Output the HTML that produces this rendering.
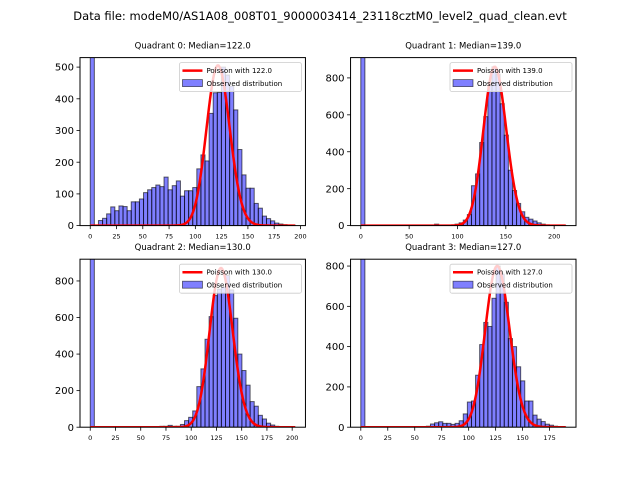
<!DOCTYPE html>
<html><head><meta charset="utf-8"><style>
body{margin:0;background:#fff;}
svg{display:block;font-family:"DejaVu Sans","Liberation Sans",sans-serif;}
</style></head><body>
<svg id="fig" width="640" height="480" viewBox="0 0 640 480">
<rect width="640" height="480" fill="#fff"/>
<text x="320" y="20" text-anchor="middle" font-size="11.5">Data file: modeM0/AS1A08_008T01_9000003414_23118cztM0_level2_quad_clean.evt</text>
</svg>
<script>
const titles = ["Quadrant 0: Median=122.0","Quadrant 1: Median=139.0","Quadrant 2: Median=130.0","Quadrant 3: Median=127.0"];
const medians = [122, 139, 130, 127];
const dataMax = [195, 212, 203, 190];
const poissonPeak = [505, 860, 870, 800];
const yMax = [530, 910, 919, 834];
const q0Counts = [5000,0,16,23,37,59,47,62,60,47,75,75,84,104,113,120,128,123,153,113,126,141,93,110,110,120,179,223,204,354,419,420,500,475,440,365,240,160,118,118,70,55,30,22,15,8,5,3,2,1];
const q1Counts = [5000,0,0,0,0,0,0,0,0,0,0,0,0,0,0,0,0,0,8,0,0,0,3,8,15,30,60,216,280,450,590,760,860,820,660,490,300,190,120,75,45,35,25,15,8,4,3,2,1,1];
const q2Counts = [5000,0,0,0,0,0,0,0,0,0,0,0,0,0,0,0,0,5,5,10,5,5,15,36,54,89,222,319,481,605,720,755,766,830,751,596,400,310,230,140,115,65,45,22,12,5,3,2,1,1];
const q3Counts = [5000,0,0,0,0,0,0,0,0,0,0,0,0,2,2,3,5,16,22,27,19,19,14,19,32,66,125,130,258,410,520,500,640,800,760,620,440,400,300,230,130,130,60,40,28,15,10,5,2,1];
const allCounts = [q0Counts, q1Counts, q2Counts, q3Counts];
const xTicks = [[0,25,50,75,100,125,150,175,200],[0,50,100,150,200],[0,25,50,75,100,125,150,175,200],[0,25,50,75,100,125,150,175]];
const yTicks = [[0,100,200,300,400,500],[0,200,400,600,800],[0,200,400,600,800],[0,200,400,600,800]];

const NS="http://www.w3.org/2000/svg";
const svg=document.getElementById('fig');
function mk(tag,attrs,parent){const e=document.createElementNS(NS,tag);for(const k in attrs)e.setAttribute(k,attrs[k]);(parent||svg).appendChild(e);return e;}
const W=225.45,H=168;
const lefts=[80,350.55,80,350.55], tops=[57.6,57.6,259.2,259.2];
function lgamma(n){let s=0;for(let i=2;i<=n;i++)s+=Math.log(i);return s;}
for(let q=0;q<4;q++){
  const L=lefts[q],T=tops[q],B=T+H,R=L+W;
  const dmax=dataMax[q],margin=dmax*0.05;
  const x0=-margin,x1=dmax+margin;
  const xs=v=>L+(v-x0)/(x1-x0)*W;
  const ys=v=>B-v/yMax[q]*H;
  const g=mk('g',{});
  
  
  const cid='clip'+q;
  const cp=mk('clipPath',{id:cid},g);mk('rect',{x:L,y:T,width:W,height:H},cp);
  const plot=mk('g',{'clip-path':'url(#'+cid+')'},g);
  const counts=allCounts[q],n=counts.length,bw=dmax/n;
  counts.forEach((c,i)=>{
    const r=mk('rect',{x:xs(i*bw),y:ys(c),width:xs((i+1)*bw)-xs(i*bw),height:Math.max(0,B-ys(c)),fill:'rgba(0,0,255,0.5)',stroke:'rgba(0,0,0,0.6)','stroke-width':1},plot);
    
    
  });
  const mu=medians[q];
  const pk=Math.exp((mu)*Math.log(mu)-mu-lgamma(mu));
  let d='';
  for(let k=0;k<=dmax;k++){
    const p=Math.exp(k*Math.log(Math.max(mu,1e-9))-mu-lgamma(k));
    d+=(k?'L':'M')+xs(k).toFixed(2)+','+ys(p/pk*poissonPeak[q]).toFixed(2);
  }
  const pl=mk('path',{d:d,fill:'none',stroke:'#ff0000','stroke-width':2.5},plot);
  
  
  const fr=mk('rect',{x:L,y:T,width:W,height:H,fill:'none',stroke:'#000','stroke-width':1},g);
  
  
  xTicks[q].forEach(v=>{
    mk('line',{x1:xs(v),x2:xs(v),y1:B,y2:B+3.5,stroke:'#000','stroke-width':0.8},g);
    const t=mk('text',{x:xs(v),y:B+13,'text-anchor':'middle','font-size':6.5},g);t.textContent=v;
    
    
  });
  yTicks[q].forEach(v=>{
    mk('line',{x1:L,x2:L-3.5,y1:ys(v),y2:ys(v),stroke:'#000','stroke-width':0.8},g);
    const t=mk('text',{x:L-6,y:ys(v)+3.6,'text-anchor':'end','font-size':10},g);t.textContent=v;
    
    
  });
  const tt=mk('text',{x:L+W/2,y:T-9,'text-anchor':'middle','font-size':8.5},g);tt.textContent=titles[q];
  
  
  const lg=mk('g',{},g);
  
  
  const lx=R-126,ly=T+5;
  mk('rect',{x:lx,y:ly,width:122,height:29,rx:2,fill:'rgba(255,255,255,0.8)',stroke:'#ccc','stroke-width':0.8},lg);
  mk('line',{x1:lx+3,x2:lx+23,y1:ly+8,y2:ly+8,stroke:'#ff0000','stroke-width':2.5},lg);
  const t1=mk('text',{x:lx+27,y:ly+10.5,'font-size':7},lg);t1.textContent='Poisson with '+mu.toFixed(1);
  
  
  mk('rect',{x:lx+3,y:ly+17,width:20,height:7,fill:'rgba(0,0,255,0.5)',stroke:'rgba(0,0,0,0.6)','stroke-width':0.8},lg);
  const t2=mk('text',{x:lx+27,y:ly+23.5,'font-size':7},lg);t2.textContent='Observed distribution';
  
  
}
</script>
</body></html>
